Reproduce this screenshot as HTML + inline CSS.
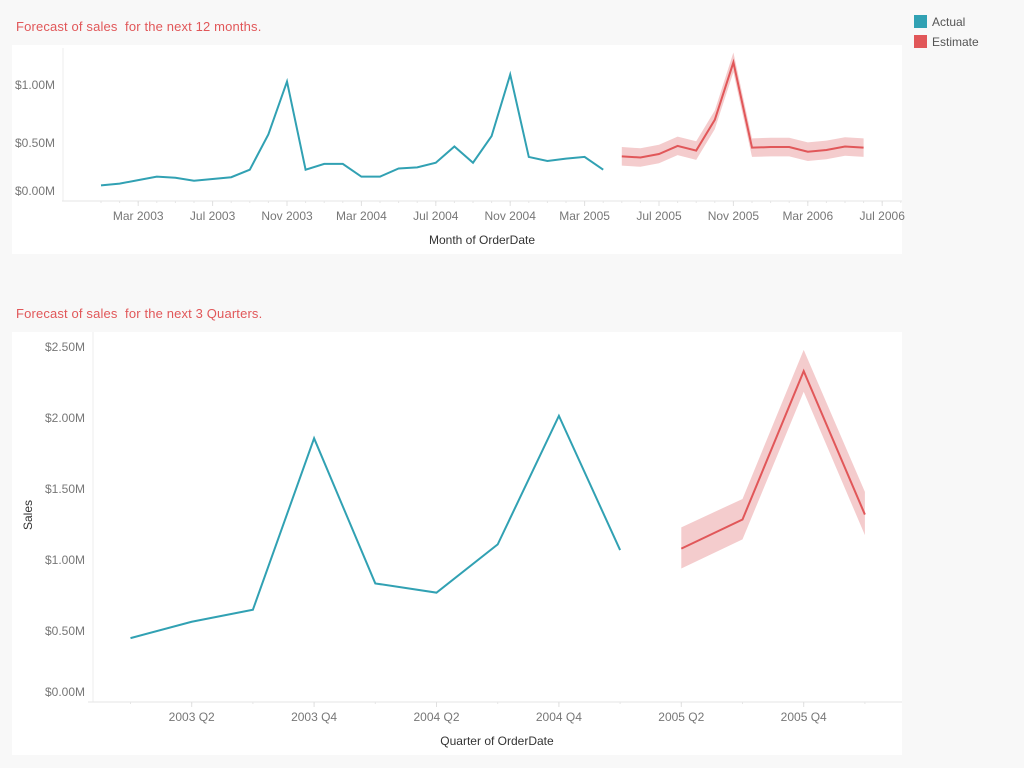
<!DOCTYPE html>
<html><head><meta charset="utf-8"><style>
html,body{margin:0;padding:0;background:#f8f8f8;width:1024px;height:768px;overflow:hidden;font-family:"Liberation Sans",sans-serif}
svg{position:absolute;left:0;top:0}
.ttl{white-space:pre}
</style></head><body>
<svg width="1024" height="768">
<rect x="12" y="45" width="890" height="209" fill="#fff"/>
<rect x="12" y="332" width="890" height="423" fill="#fff"/>
<text class="ttl" x="16" y="31" font-size="13" letter-spacing="0.15" fill="#e15759">Forecast of sales  for the next 12 months.</text>
<text class="ttl" x="16" y="318" font-size="13" letter-spacing="0.15" fill="#e15759">Forecast of sales  for the next 3 Quarters.</text>
<g>
<rect x="914" y="15" width="13" height="13" fill="#31a1b3"/>
<text x="932" y="26" font-size="12" fill="#555">Actual</text>
<rect x="914" y="35" width="13" height="13" fill="#e15759"/>
<text x="932" y="46" font-size="12" fill="#555">Estimate</text>
</g>
<g id="top"></g>
<g id="bot"></g>
</svg>
<script>
// Monthly data (index 0 = Jan 2003)
const mActual = [0.135,0.15,0.18,0.21,0.20,0.175,0.19,0.205,0.27,0.575,1.03,0.27,0.32,0.32,0.21,0.21,0.28,0.29,0.33,0.47,0.33,0.56,1.09,0.38,0.345,0.365,0.38,0.27];
const mEst = [0.385,0.375,0.405,0.475,0.435,0.70,1.195,0.46,0.465,0.465,0.425,0.44,0.47,0.46];
const mEstLow = [0.305,0.295,0.325,0.395,0.355,0.62,1.11,0.38,0.385,0.385,0.345,0.36,0.39,0.38];
const mEstHigh = [0.465,0.455,0.485,0.555,0.515,0.78,1.28,0.54,0.545,0.545,0.505,0.52,0.55,0.54];
const mTicks = ["Mar 2003","Jul 2003","Nov 2003","Mar 2004","Jul 2004","Nov 2004","Mar 2005","Jul 2005","Nov 2005","Mar 2006","Jul 2006"];
const mYTicks = [0,0.5,1.0];
// Quarterly data (index 0 = 2003 Q1)
const qActual = [0.45,0.565,0.65,1.857,0.835,0.77,1.11,2.015,1.07];
const qEst = [1.08,1.285,2.33,1.32];
const qEstLow = [0.94,1.145,2.185,1.175];
const qEstHigh = [1.23,1.43,2.48,1.48];
const qTicks = ["2003 Q2","2003 Q4","2004 Q2","2004 Q4","2005 Q2","2005 Q4"];
const qYTicks = [0,0.5,1.0,1.5,2.0,2.5];

const NS="http://www.w3.org/2000/svg";
function mk(p,t,a){const e=document.createElementNS(NS,t);for(const k in a)e.setAttribute(k,a[k]);p.appendChild(e);return e;}
function fmt(v){return "$"+v.toFixed(2)+"M";}

function chart(g,o){
  const xs=i=>o.x0+i*o.dx, ys=v=>o.y0-v*o.ky;
  mk(g,'line',{x1:o.axL,y1:o.top,x2:o.axL,y2:o.y0,stroke:'#eee'});
  mk(g,'line',{x1:o.axL-o.ext,y1:o.y0,x2:902,y2:o.y0,stroke:'#e6e6e6'});
  for(let i=0;i<o.nMinor;i++){mk(g,'line',{x1:xs(i),y1:o.y0,x2:xs(i),y2:o.y0+2,stroke:'#e6e6e6'});}
  o.yt.forEach((v,i)=>{
    const y=ys(v)+(v===0?-6:4);
    const t=mk(g,'text',{x:o.axL-8,y:y,'font-size':12,fill:'#777','text-anchor':'end'});t.textContent=fmt(v);
    
    
  });
  o.xt.forEach((s,i)=>{
    const x=xs(o.tick0+i*o.tickStep);
    mk(g,'line',{x1:x,y1:o.y0,x2:x,y2:o.y0+5,stroke:'#e0e0e0'});
    const t=mk(g,'text',{x:x,y:o.y0+19,'font-size':12,fill:'#777','text-anchor':'middle'});t.textContent=s;
    
    
  });
  const xt=mk(g,'text',{x:o.xtX,y:o.xtY,'font-size':12,fill:'#333','text-anchor':'middle'});xt.textContent=o.xTitle;
  
  
  const n=o.act.length;
  let up=o.hi.map((v,i)=>xs(n+i)+','+ys(v)), lo=o.lo.map((v,i)=>xs(n+i)+','+ys(v)).reverse();
  const band=mk(g,'polygon',{points:up.concat(lo).join(' '),fill:'#f4cccd'});
  
  
  const la=mk(g,'polyline',{points:o.act.map((v,i)=>xs(i)+','+ys(v)).join(' '),fill:'none',stroke:'#31a1b3','stroke-width':2});
  
  
  const le=mk(g,'polyline',{points:o.est.map((v,i)=>xs(n+i)+','+ys(v)).join(' '),fill:'none',stroke:'#e15759','stroke-width':2});
  
  
}
chart(document.getElementById('top'),{x0:101,dx:18.6,y0:201,ky:116,axL:63,ext:1,top:48,nMinor:44,tick0:2,tickStep:4,
  act:mActual,est:mEst,lo:mEstLow,hi:mEstHigh,xt:mTicks,yt:mYTicks,xTitle:'Month of OrderDate',xtX:482,xtY:244});
chart(document.getElementById('bot'),{x0:130.5,dx:61.2,y0:702,ky:142,axL:93,ext:5,top:332,nMinor:13,tick0:1,tickStep:2,
  act:qActual,est:qEst,lo:qEstLow,hi:qEstHigh,xt:qTicks,yt:qYTicks,xTitle:'Quarter of OrderDate',xtX:497,xtY:745});
const st=document.createElementNS(NS,'text');
st.setAttribute('transform','translate(32,515) rotate(-90)');st.setAttribute('font-size','12');st.setAttribute('fill','#333');st.setAttribute('text-anchor','middle');
st.textContent='Sales';


document.getElementById('bot').appendChild(st);
</script>
</body></html>
